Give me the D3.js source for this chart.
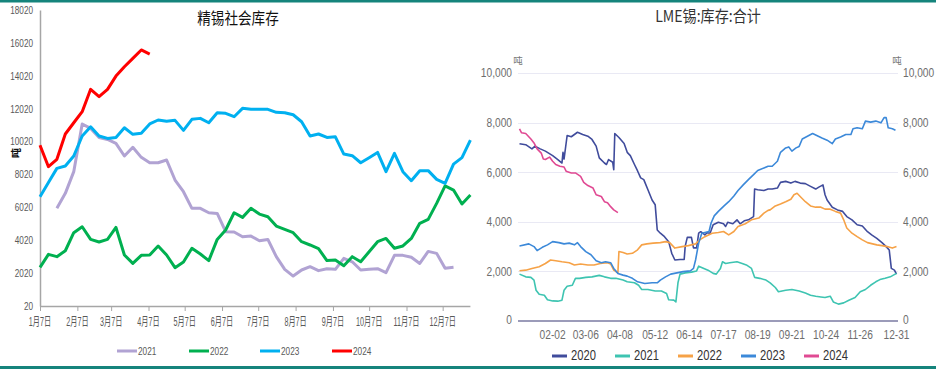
<!DOCTYPE html>
<html><head><meta charset="utf-8">
<script src="https://cdn.jsdelivr.net/npm/d3@7"></script>
<style>
html,body{margin:0;padding:0;background:#fff;}
svg{display:block;}
</style></head>
<body>
<svg id="chart" width="936" height="369"></svg>
<script>
// ---------- Left chart: 精锡社会库存 (weekly, starting 1月7日) ----------
const leftTitle = "精锡社会库存";
const leftYTicks = [20, 2020, 4020, 6020, 8020, 10020, 12020, 14020, 16020, 18020];
const leftXTickLabels = ["1月7日","2月7日","3月7日","4月7日","5月7日","6月7日","7月7日","8月7日","9月7日","10月7日","11月7日","12月7日"];
const leftSeriesNames = ["2021","2022","2023","2024"];
// index 0 = week of 1月7日; null = no data
const soc2021 = [null,null,5960,6870,8190,11090,10820,10270,10150,9910,9140,9670,9060,8730,8730,8900,7680,6970,5960,5960,5690,5650,4540,4520,4230,4270,3990,4070,3020,2250,1840,2210,2410,2170,2290,2250,2920,2710,2210,2250,2290,2050,3100,3100,2980,2610,3340,3220,2310,2370];
const soc2022 = [2370,3160,3020,3380,4480,4840,4070,3910,4070,4800,3120,2610,3100,3120,3670,3120,2350,2700,3530,3180,2780,4070,4640,5690,5410,5960,5610,5450,4880,4680,4480,3930,3730,3510,2780,2820,2470,3020,2710,3320,3930,4130,3530,3670,4130,5050,5290,6260,7320,7070,6220,6770];
const soc2023 = [6670,7530,8390,8530,9140,10360,10920,10360,10210,10270,10860,10460,10520,11090,11330,11250,11310,10700,11370,11430,11165,11775,11735,11530,12040,11980,11980,11980,11795,11775,11650,11225,10360,10480,10270,10310,9260,9160,8730,9040,9360,8190,9300,8190,7640,8250,8250,7720,7480,8650,9040,10110];
const soc2024 = [9800,8490,8940,10480,11165,11835,13195,12750,13195,14000,14570,15080,15590,15340];

// ---------- Right chart: LME锡:库存:合计 (daily, day index 0 = 01-01) ----------
const rightTitle = "LME锡:库存:合计";
const rightYTicks = [0, 2000, 4000, 6000, 8000, 10000];
const rightXTickDays = [32, 64, 97, 131, 164, 197, 230, 263, 296, 329, 364];
const rightXTickLabels = ["02-02","03-06","04-08","05-12","06-14","07-17","08-19","09-21","10-24","11-26","12-31"];
const rightSeriesNames = ["2020","2021","2022","2023","2024"];
const lme2020 = [[0,7150],[6,7110],[12,6940],[15,7050],[20,6940],[25,6850],[32,6670],[37,6510],[41,6370],[42,6800],[43,6530],[46,7480],[50,7430],[56,7610],[61,7520],[66,7450],[70,7320],[74,7050],[77,6580],[82,6370],[84,6310],[86,6510],[90,6400],[91,6100],[92,7560],[96,7400],[101,7160],[104,6800],[107,6670],[111,6310],[114,6050],[117,5770],[120,5700],[124,5290],[128,4880],[131,4690],[133,3670],[136,3540],[140,3400],[144,3200],[147,2730],[150,2460],[155,2480],[159,2480],[160,3020],[162,3370],[166,3370],[168,2950],[171,2950],[173,3540],[175,3600],[179,3470],[181,3560],[184,3540],[187,3880],[192,3980],[197,3920],[199,3810],[201,3980],[206,3920],[210,4080],[213,3920],[217,4040],[221,4080],[226,4210],[227,5320],[230,5290],[236,5260],[240,5320],[244,5320],[249,5360],[252,5590],[257,5630],[262,5560],[266,5630],[271,5560],[276,5540],[281,5430],[286,5320],[289,5400],[293,5490],[295,5090],[297,4880],[302,4590],[307,4480],[312,4420],[316,4210],[321,4080],[326,3880],[331,3830],[336,3600],[340,3470],[345,3330],[350,3160],[354,3000],[357,2860],[359,2120],[362,2050],[364,1890]];
const lme2021 = [[0,1890],[6,1780],[11,1760],[14,1650],[16,1240],[19,1080],[24,1040],[27,860],[32,810],[37,800],[41,840],[43,1240],[46,1400],[51,1440],[54,1720],[58,1720],[64,1760],[70,1780],[77,1840],[82,1780],[88,1720],[93,1720],[100,1650],[104,1580],[111,1540],[115,1440],[118,1270],[124,1270],[131,1210],[137,1210],[142,1110],[144,860],[149,840],[151,770],[153,1540],[155,1890],[160,1940],[166,1970],[171,2020],[173,2210],[178,2120],[182,2050],[187,1920],[190,1890],[194,2120],[196,2390],[199,2320],[203,2350],[210,2390],[215,2320],[219,2260],[224,2120],[227,1760],[232,1720],[238,1650],[242,1540],[247,1350],[250,1180],[257,1240],[263,1270],[270,1210],[276,1130],[281,1040],[286,1000],[291,970],[295,945],[300,1000],[303,770],[308,680],[313,730],[318,840],[324,945],[329,1180],[334,1270],[339,1440],[344,1580],[348,1670],[353,1720],[358,1780],[364,1920]];
const lme2022 = [[0,2025],[6,2050],[12,2120],[19,2190],[25,2320],[30,2460],[35,2430],[41,2390],[48,2350],[53,2260],[59,2300],[66,2260],[72,2260],[78,2320],[85,2350],[88,2300],[91,2050],[95,1940],[96,2800],[100,2760],[104,2700],[109,2730],[114,2870],[118,3070],[123,3110],[129,3140],[136,3160],[141,3200],[145,3160],[150,2940],[157,3000],[163,3040],[170,3110],[174,3270],[179,3400],[186,3540],[192,3570],[197,3610],[202,3470],[207,3610],[211,3810],[218,3920],[224,4080],[231,4150],[236,4350],[240,4460],[242,4480],[247,4640],[252,4720],[257,4810],[262,4910],[265,5090],[268,5150],[271,5020],[276,4810],[281,4640],[286,4590],[291,4590],[295,4510],[300,4510],[305,4420],[310,4350],[313,4080],[316,3750],[321,3540],[326,3400],[331,3270],[336,3160],[341,3110],[345,3070],[350,3040],[355,3000],[360,2940],[364,3000]];
const lme2023 = [[0,3025],[9,3110],[14,3000],[17,2840],[22,2970],[27,3070],[32,3200],[38,3160],[43,3110],[48,3140],[53,3070],[56,3160],[59,3000],[64,2800],[69,2670],[74,2430],[79,2350],[83,2390],[88,2350],[91,2120],[95,1920],[100,1850],[104,1810],[109,1720],[114,1580],[118,1540],[121,1510],[128,1540],[133,1540],[136,1650],[141,1780],[146,1890],[152,1940],[158,1990],[165,2020],[168,2120],[170,2460],[173,3140],[176,3540],[179,3570],[183,3610],[185,3950],[188,4240],[192,4420],[197,4620],[202,4810],[207,5040],[211,5260],[216,5490],[221,5700],[226,5900],[230,6070],[236,6170],[240,6240],[244,6240],[249,6440],[252,6800],[257,6980],[260,7020],[263,6850],[267,6980],[270,7040],[273,7340],[278,7450],[283,7560],[287,7480],[292,7380],[297,7290],[302,7150],[305,7340],[310,7420],[315,7520],[320,7520],[322,7750],[326,7790],[331,7750],[334,8060],[339,8020],[344,8060],[349,7990],[352,8200],[354,8200],[356,7790],[360,7750],[363,7690]];
const lme2024 = [[0,7750],[2,7590],[6,7560],[11,7340],[14,7180],[17,6940],[21,6770],[23,6530],[25,6510],[29,6610],[32,6440],[35,6310],[39,6240],[43,6210],[45,6040],[50,5970],[54,5970],[59,5830],[62,5590],[66,5460],[71,5360],[74,5090],[79,5020],[82,4810],[85,4770],[88,4610],[91,4480],[95,4370]];

// ---------- styles ----------
const leftColors = ["#b1a3d3", "#00b050", "#00b0f0", "#ff0000"];
const rightColors = ["#404c9c", "#3ec4b1", "#f6a247", "#3c89d9", "#e04a93"];
const svg = d3.select("#chart");

// teal border bars
svg.append("rect").attr("x",0).attr("y",0).attr("width",936).attr("height",2.5).attr("fill","#15847c");
svg.append("rect").attr("x",0).attr("y",366).attr("width",936).attr("height",3).attr("fill","#15847c");

function sText(g, x, y, str, opt) {
  const t = g.append("text")
    .attr("transform", `translate(${x},${y}) scale(${opt.sx||1},1)`)
    .attr("text-anchor", opt.anchor||"middle")
    .attr("dominant-baseline", "central")
    .attr("font-family", opt.family||"'Liberation Sans','Noto Sans CJK SC',sans-serif")
    .attr("font-size", opt.size||11)
    .attr("fill", opt.fill||"#595959")
    .text(str);
  if (opt.weight) t.attr("font-weight", opt.weight);
  return t;
}

// ===== LEFT CHART =====
(function(){
  const g = svg.append("g");
  const start = new Date(2023,0,7);
  const weekDate = i => d3.timeDay.offset(start, 7*i);
  const x = d3.scaleTime().domain([start, weekDate(51)]).range([40, 470.4]);
  const y = d3.scaleLinear().domain([20, 18020]).range([306, 10]);

  sText(g, 238, 17, leftTitle, {size:16, sx:0.85, fill:"#111", family:"'Noto Sans CJK SC',sans-serif"});

  leftYTicks.forEach(v => sText(g, 33, y(v), String(v), {anchor:"end", size:10.5, sx:0.78}));
  g.append("text").attr("transform","translate(15,153) rotate(-90)")
    .attr("text-anchor","middle").attr("dominant-baseline","central")
    .attr("font-family","'Noto Sans CJK SC',sans-serif").attr("font-size",10).attr("font-weight","bold")
    .attr("fill","#111").text("吨");

  const monthTicks = d3.range(12).map(m => new Date(2023, m, 7));
  const xAxis = d3.axisBottom(x).tickValues(monthTicks).tickSize(5).tickFormat("");
  const ax = g.append("g").attr("transform","translate(0,306)").call(xAxis);
  ax.select(".domain").attr("stroke","#a6a6a6").attr("stroke-width",1.5).attr("d","M40,0.5H470.4");
  ax.selectAll(".tick line").attr("stroke","#a6a6a6").attr("stroke-width",1);
  monthTicks.forEach((d,i) => sText(g, x(d), 322, leftXTickLabels[i], {size:12, sx:0.6}));
  const ayAxis = d3.axisLeft(y).tickValues([]).tickSize(0);
  const ay = g.append("g").attr("transform","translate(40,0)").call(ayAxis);
  ay.select(".domain").attr("stroke","#a6a6a6").attr("stroke-width",1.5);

  const line2 = d3.line().defined(d => d.v != null).x(d => x(weekDate(d.i))).y(d => y(d.v));
  [soc2021, soc2022, soc2023, soc2024].forEach((arr, k) => {
    const pts = arr.map((v,i)=>({i, v}));
    g.append("path").attr("d", line2(pts)).attr("fill","none")
      .attr("stroke", leftColors[k]).attr("stroke-width", 3).attr("stroke-linejoin","round");
  });

  const lx = [117, 189, 260, 332];
  leftSeriesNames.forEach((n,k) => {
    g.append("line").attr("x1",lx[k]).attr("x2",lx[k]+20).attr("y1",351).attr("y2",351)
      .attr("stroke",leftColors[k]).attr("stroke-width",3);
    sText(g, lx[k]+21, 351, n, {anchor:"start", size:11, sx:0.75});
  });
})();

// ===== RIGHT CHART =====
(function(){
  const g = svg.append("g");
  const x = d3.scaleLinear().domain([0, 364]).range([519.5, 896.5]);
  const y = d3.scaleLinear().domain([0, 10000]).range([321, 73]);
  const fam = "'Noto Sans CJK SC','Liberation Sans',sans-serif";

  sText(g, 708, 15, rightTitle, {size:16, sx:0.88, fill:"#333", family:fam});
  sText(g, 518, 60, "吨", {size:9.5, fill:"#777", family:fam});
  sText(g, 897, 60, "吨", {size:9.5, fill:"#777", family:fam});

  rightYTicks.filter(v=>v>0).forEach(v => {
    g.append("line").attr("x1",518).attr("x2",898).attr("y1",Math.round(y(v))+0.5).attr("y2",Math.round(y(v))+0.5)
      .attr("stroke","#e9e9f4").attr("stroke-width",1.2);
  });
  const fmt = d3.format(",");
  rightYTicks.forEach(v => {
    const yy = v === 0 ? y(v) - 1.5 : y(v);
    sText(g, 512, yy, fmt(v), {anchor:"end", size:12, sx:0.85, fill:"#6e6e6e", family:"'Liberation Sans',sans-serif"});
    sText(g, 903, yy, fmt(v), {anchor:"start", size:12, sx:0.85, fill:"#6e6e6e", family:"'Liberation Sans',sans-serif"});
  });
  const xa = d3.axisBottom(x).tickValues([]).tickSize(0);
  const xg = g.append("g").attr("transform",`translate(0,${y(0)})`).call(xa);
  xg.select(".domain").attr("stroke","#9b9bb9").attr("stroke-width",2).attr("d","M518,0H898");
  rightXTickDays.forEach((d,i) => sText(g, x(d), 334.5, rightXTickLabels[i], {size:12, sx:0.85, fill:"#6e6e6e", family:"'Liberation Sans',sans-serif"}));

  const line = d3.line().x(d => x(d[0])).y(d => y(d[1]));
  [lme2020, lme2021, lme2022, lme2023, lme2024].forEach((arr,k) => {
    g.append("path").attr("d", line(arr)).attr("fill","none")
      .attr("stroke", rightColors[k]).attr("stroke-width",1.6).attr("stroke-linejoin","round");
  });
  const lx = [552, 615, 678, 741, 804];
  rightSeriesNames.forEach((n,k) => {
    g.append("line").attr("x1",lx[k]).attr("x2",lx[k]+15).attr("y1",356).attr("y2",356)
      .attr("stroke",rightColors[k]).attr("stroke-width",3);
    sText(g, lx[k]+19, 356, n, {anchor:"start", size:14, sx:0.8, fill:"#333", family:"'Liberation Sans',sans-serif"});
  });
})();
</script>
</body></html>
